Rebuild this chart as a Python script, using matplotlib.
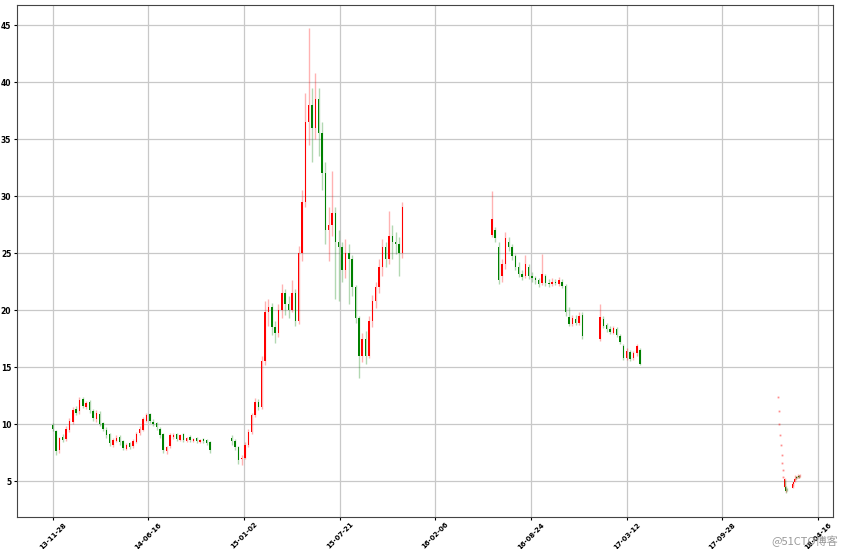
import numpy as np
import pandas as pd
import matplotlib
matplotlib.use("Agg")
import matplotlib.pyplot as plt
import matplotlib.dates as mdates
from matplotlib.colors import to_rgba

# weekly bars (segment 1: 2013-11-28 .. 2014-10)
seg1_start = "2013-11-28"
seg1_open = [9.9, 9.4, 7.7, 8.9, 8.7, 9.5, 10.2, 11.3, 11.1, 12.2, 11.5, 11.9, 11.1, 10.4, 10.9, 10.1,
             9.5, 9.1, 8.2, 8.5, 8.9, 8.5, 7.8, 8.3, 8.1, 8.4, 9.2, 9.5, 10.3, 10.9, 10.2, 10.1,
             9.6, 9.1, 7.6, 8.1, 8.9, 9.1, 8.6, 9.1, 8.5, 8.9, 8.5, 8.8, 8.4, 8.7, 8.6, 8.4]
seg1_high = [10.1, 9.5, 8.9, 9.1, 9.8, 10.5, 11.5, 11.6, 12.4, 12.4, 12.0, 12.1, 11.3, 11.2, 11.1, 10.2,
             9.7, 9.2, 8.8, 9.0, 9.0, 8.6, 8.3, 8.4, 8.7, 9.3, 9.8, 10.6, 11.0, 11.0, 10.4, 10.2,
             9.7, 9.2, 8.1, 9.2, 9.2, 9.2, 9.1, 9.2, 8.9, 9.0, 8.8, 8.9, 8.7, 8.8, 8.7, 8.5]
seg1_low = [9.4, 7.3, 7.5, 8.4, 8.5, 9.3, 10.0, 10.8, 10.9, 11.4, 11.3, 11.0, 10.3, 10.2, 9.8, 9.4,
            8.8, 8.1, 8.0, 8.4, 8.2, 7.7, 7.7, 7.8, 7.9, 8.3, 9.0, 9.4, 10.2, 10.1, 9.8, 9.5,
            8.8, 7.5, 7.4, 7.9, 8.7, 8.5, 8.5, 8.4, 8.4, 8.4, 8.4, 8.3, 8.3, 8.3, 8.2, 7.5]
seg1_close = [9.6, 7.6, 8.8, 8.6, 9.6, 10.3, 11.2, 11.0, 12.1, 11.6, 11.8, 11.2, 10.5, 11.0, 10.0, 9.6,
              9.0, 8.3, 8.6, 8.8, 8.4, 7.9, 8.2, 8.0, 8.5, 9.1, 9.6, 10.4, 10.8, 10.3, 10.0, 9.7,
              9.0, 7.7, 8.0, 9.0, 9.0, 8.7, 9.0, 8.6, 8.8, 8.6, 8.7, 8.5, 8.6, 8.5, 8.3, 7.7]

# weekly bars (segment 2: 2014-12 .. 2015-12)
seg2_start = "2014-12-07"
seg2_open = [8.8, 8.5, 8.0, 6.9, 7.0, 8.2, 9.3, 10.8, 11.9, 11.5, 15.5, 19.8, 20.3, 18.5, 18.0, 20.0,
             21.5, 20.5, 20.0, 21.5, 19.0, 25.0, 29.5, 36.5, 38.0, 36.0, 38.5, 35.5, 32.0, 27.0,
             27.5, 28.5, 26.0, 25.5, 23.5, 25.0, 24.5, 22.0, 19.3, 16.0, 17.5, 16.0, 19.0, 20.8,
             22.0, 23.8, 25.5, 24.5, 26.5, 26.0, 25.8, 25.0]
seg2_high = [9.0, 8.7, 8.1, 7.3, 8.4, 9.6, 11.0, 12.3, 12.2, 16.0, 20.8, 21.0, 20.6, 19.0, 20.5, 22.3,
             21.8, 21.2, 22.6, 21.8, 25.6, 30.5, 39.0, 44.7, 39.5, 40.8, 39.5, 36.5, 33.0, 29.0,
             32.2, 29.0, 27.0, 26.0, 26.2, 25.8, 24.8, 22.2, 19.5, 18.0, 18.2, 19.5, 21.3, 22.5,
             24.5, 26.2, 26.0, 28.7, 27.5, 26.8, 26.4, 29.5]
seg2_low = [8.2, 7.7, 6.5, 6.4, 6.9, 8.0, 9.1, 10.6, 11.2, 11.3, 15.2, 18.6, 17.8, 17.1, 17.6, 19.3,
            19.6, 19.3, 19.8, 18.6, 18.8, 24.3, 29.0, 34.5, 33.0, 35.0, 33.5, 30.5, 25.8, 24.3,
            26.5, 21.0, 20.8, 22.5, 22.8, 20.5, 21.2, 18.9, 14.0, 15.4, 15.3, 15.8, 18.5, 20.2,
            21.5, 23.0, 23.8, 24.0, 24.5, 24.9, 23.0, 24.6]
seg2_close = [8.5, 8.0, 6.8, 7.0, 8.2, 9.3, 10.8, 11.9, 11.5, 15.5, 19.8, 20.3, 18.5, 18.0, 20.0, 21.5,
              20.5, 20.0, 21.5, 19.0, 25.0, 29.5, 36.5, 38.0, 36.0, 38.5, 35.5, 32.0, 27.0, 27.5,
              28.5, 26.0, 25.5, 23.5, 25.0, 24.5, 22.0, 19.3, 16.0, 17.5, 16.0, 19.0, 20.8, 22.0,
              23.8, 25.5, 24.5, 26.5, 26.0, 25.8, 25.0, 29.0]

# weekly bars (segment 3: 2016-06 .. 2016-12)
seg3_start = "2016-06-03"
seg3_open = [26.6, 27.0, 25.5, 23.0, 24.0, 26.0, 25.5, 24.7, 23.8, 23.2, 23.0, 23.8, 23.0, 22.8,
             22.6, 22.4, 23.0, 22.4, 22.3, 22.5, 22.3, 22.5, 22.1, 19.4, 18.8, 19.2, 18.9, 19.6]
seg3_high = [30.4, 27.3, 26.0, 24.5, 26.8, 26.4, 25.8, 24.9, 24.2, 23.5, 24.8, 24.0, 23.3, 23.0,
             22.8, 24.9, 23.2, 22.7, 22.8, 22.7, 22.9, 22.7, 22.3, 20.3, 19.6, 19.6, 19.8, 19.8]
seg3_low = [26.4, 26.0, 22.3, 22.5, 23.6, 25.2, 24.4, 23.5, 22.9, 22.6, 22.8, 22.7, 22.5, 22.3,
            22.0, 22.2, 22.1, 22.0, 22.1, 22.2, 22.1, 21.9, 19.5, 18.6, 18.6, 18.7, 18.7, 17.5]
seg3_close = [28.0, 26.3, 22.6, 24.0, 26.3, 25.5, 24.7, 23.8, 23.2, 22.9, 24.0, 23.0, 22.8, 22.6,
              22.3, 23.2, 22.4, 22.3, 22.5, 22.4, 22.6, 22.1, 19.8, 18.8, 19.3, 18.9, 19.5, 17.7]

# weekly bars (segment 4: 2017-01 .. 2017-04)
seg4_start = "2017-01-15"
seg4_open = [17.5, 19.2, 18.7, 18.3, 18.0, 18.3, 17.7, 16.8, 15.8, 16.3, 15.8, 16.2, 16.5]
seg4_high = [20.5, 19.5, 18.9, 18.6, 18.6, 18.5, 17.9, 17.0, 16.7, 16.5, 16.4, 17.0, 16.7]
seg4_low = [17.3, 18.4, 18.1, 17.9, 17.9, 17.6, 17.0, 15.6, 15.6, 15.5, 15.6, 16.0, 15.2]
seg4_close = [19.4, 18.6, 18.3, 18.1, 18.4, 17.8, 17.2, 15.8, 16.4, 15.7, 16.2, 16.8, 15.3]

# daily bars 2018 (before / after the holiday)
seg5_start = "2018-01-23"
seg5_open = [12.40, 11.16, 10.04, 9.04, 8.14, 7.32, 6.59, 5.93, 5.34, 4.45, 5.00, 4.50, 4.10, 4.25]
seg5_high = [12.40, 11.16, 10.04, 9.04, 8.14, 7.32, 6.59, 5.93, 5.34, 5.30, 5.05, 4.55, 4.35, 4.35]
seg5_low = [12.40, 11.16, 10.04, 9.04, 8.14, 7.32, 6.59, 5.93, 5.34, 4.40, 4.45, 3.95, 4.05, 4.10]
seg5_close = [12.40, 11.16, 10.04, 9.04, 8.14, 7.32, 6.59, 5.93, 5.34, 5.20, 4.50, 4.10, 4.25, 4.20]

seg6_start = "2018-02-22"
seg6_open = [4.40, 4.70, 4.95, 5.10, 5.30, 5.25, 5.35, 5.30, 5.40, 5.35, 5.45, 5.40]
seg6_high = [4.90, 4.95, 5.30, 5.55, 5.45, 5.45, 5.45, 5.60, 5.50, 5.55, 5.50, 5.60]
seg6_low = [4.35, 4.60, 4.90, 5.05, 5.20, 5.20, 5.25, 5.25, 5.30, 5.30, 5.35, 5.35]
seg6_close = [4.75, 4.90, 5.15, 5.40, 5.25, 5.35, 5.30, 5.45, 5.35, 5.45, 5.40, 5.50]

tick_start = "2013-11-28"


def candles(ax, dates, o, h, l, c, width):
    x = mdates.date2num(dates)
    o, h, l, c = map(np.asarray, (o, h, l, c))
    cols = np.where(c >= o, 'r', 'g')
    ax.vlines(x, l, h, colors=cols, linewidth=1.0, alpha=0.3)
    flat = np.abs(c - o) == 0
    body = np.abs(c - o)
    ax.bar(x[~flat], body[~flat], bottom=np.minimum(o, c)[~flat], width=width,
           color=cols[~flat], linewidth=0)
    # flat days (open == close) show only as a faint dot
    if flat.any():
        ax.plot(x[flat], c[flat], linestyle='none', marker='s', markersize=1.3,
                markeredgewidth=0, color=to_rgba('r', 0.45))


fig = plt.figure(figsize=(8.41, 5.49), dpi=100)
ax = fig.add_axes([0.02, 0.058, 0.971, 0.933])

candles(ax, pd.date_range(seg1_start, periods=len(seg1_close), freq='7D'),
        seg1_open, seg1_high, seg1_low, seg1_close, 3.0)
candles(ax, pd.date_range(seg2_start, periods=len(seg2_close), freq='7D'),
        seg2_open, seg2_high, seg2_low, seg2_close, 3.0)
candles(ax, pd.date_range(seg3_start, periods=len(seg3_close), freq='7D'),
        seg3_open, seg3_high, seg3_low, seg3_close, 3.0)
candles(ax, pd.date_range(seg4_start, periods=len(seg4_close), freq='7D'),
        seg4_open, seg4_high, seg4_low, seg4_close, 3.0)
candles(ax, pd.bdate_range(seg5_start, periods=len(seg5_close)),
        seg5_open, seg5_high, seg5_low, seg5_close, 1.2)
candles(ax, pd.bdate_range(seg6_start, periods=len(seg6_close)),
        seg6_open, seg6_high, seg6_low, seg6_close, 1.2)

ticks = pd.date_range(tick_start, periods=9, freq='200D')
ax.set_xticks(mdates.date2num(ticks))
ax.set_xticklabels([t.strftime('%y-%m-%d') for t in ticks], rotation=45, fontsize=5,
                   fontweight='bold')
ax.set_yticks(range(5, 50, 5))
ax.set_yticklabels([str(v) for v in range(5, 50, 5)], fontsize=5.5, fontweight='bold')
ax.tick_params(axis='y', length=2, pad=2)
ax.tick_params(axis='x', length=2, pad=1)
ax.set_xlim(mdates.date2num(pd.Timestamp("2013-09-14")), mdates.date2num(pd.Timestamp("2018-05-18")))
ax.set_ylim(1.83, 46.76)
ax.grid(True, color='#c8c8c8', linewidth=0.9)
ax.set_axisbelow(True)
for s in ax.spines.values():
    s.set_color('#444444')

fig.text(0.997, 0.004, '@51CTO博客', ha='right', va='bottom', fontsize=8, color='#999999',
         family=['Noto Sans CJK SC', 'DejaVu Sans'])

fig.savefig('out.png', dpi=100)
